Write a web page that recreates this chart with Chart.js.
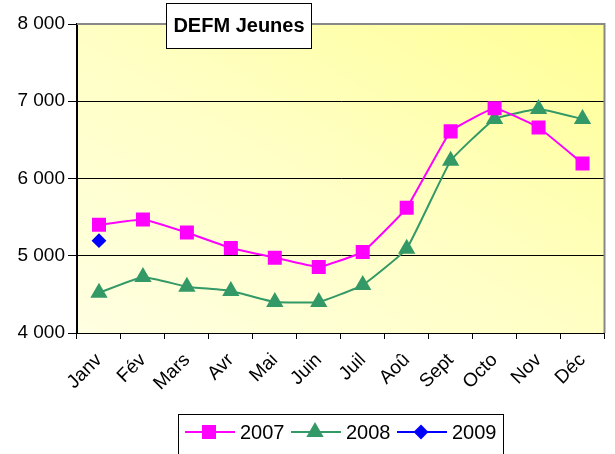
<!DOCTYPE html>
<html>
<head>
<meta charset="utf-8">
<script src="https://cdn.jsdelivr.net/npm/chart.js@4"></script>
<style>
  body { margin: 0; background: #fff; }
  #wrap { width: 615px; height: 454px; }
</style>
</head>
<body>
<div id="wrap"><canvas id="graph" width="615" height="454"></canvas></div>
<script>
// data
const months = ["Janv", "Fév", "Mars", "Avr", "Mai", "Juin", "Juil", "Aoû", "Sept", "Octo", "Nov", "Déc"];
const y2007 = [5400, 5470, 5300, 5100, 4975, 4855, 5050, 5620, 6610, 6910, 6660, 6195];
const y2008 = [4520, 4725, 4600, 4545, 4400, 4400, 4620, 5090, 6230, 6770, 6900, 6770];
const y2009 = [5195, null, null, null, null, null, null, null, null, null, null, null];
const yTicks = [4000, 5000, 6000, 7000, 8000];
const chartTitle = "DEFM Jeunes";

const FONT = "'Liberation Sans', Arial, sans-serif";

function spaced(v) { // 8000 -> "8 000"
  return String(v).replace(/\B(?=(\d{3})+(?!\d))/g, ' ');
}

// background, frame, title box and legend
const decor = {
  id: 'decor',
  beforeDraw(chart) {
    const {ctx, chartArea: a} = chart;
    const w = a.right - a.left, h = a.bottom - a.top;
    const cx = a.left + w / 2, cy = a.top + h / 2;
    const L = Math.hypot(w, h), k = w * h / L; // iso-lines parallel to the TL-BR diagonal
    const nx = h / L, ny = -w / L;
    const g = ctx.createLinearGradient(cx - k * nx, cy - k * ny, cx + k * nx, cy + k * ny);
    g.addColorStop(0, '#ffffe2');
    g.addColorStop(0.5, '#ffffc4');
    g.addColorStop(1, '#ffff96');
    ctx.save();
    ctx.fillStyle = g;
    ctx.fillRect(a.left, a.top, w, h);
    ctx.restore();
  },
  afterDraw(chart) {
    const {ctx, chartArea: a} = chart;
    ctx.save();
    // grey frame top / right
    ctx.strokeStyle = '#888';
    ctx.lineWidth = 2;
    ctx.beginPath();
    ctx.moveTo(a.left, a.top);
    ctx.lineTo(a.right, a.top);
    ctx.lineTo(a.right, a.bottom);
    ctx.stroke();

    // title box
    ctx.fillStyle = '#fff';
    ctx.fillRect(166, 3, 145, 45);
    ctx.strokeStyle = '#000';
    ctx.lineWidth = 1;
    ctx.strokeRect(166.5, 3.5, 145, 45);
    ctx.fillStyle = '#000';
    ctx.font = 'bold 20px ' + FONT;
    ctx.textAlign = 'center';
    ctx.textBaseline = 'middle';
    ctx.fillText(chartTitle, 239, 26);

    // legend box
    ctx.fillStyle = '#fff';
    ctx.fillRect(178, 414, 325, 50);
    ctx.strokeStyle = '#000';
    ctx.strokeRect(178.5, 414.5, 325, 50);
    ctx.font = '20px ' + FONT;
    ctx.textAlign = 'left';
    chart.data.datasets.forEach((ds, i) => {
      const x = 185 + i * 106, y = 432;
      ctx.strokeStyle = ds.borderColor;
      ctx.lineWidth = 2;
      ctx.beginPath();
      ctx.moveTo(x, y);
      ctx.lineTo(x + 50, y);
      ctx.stroke();
      ctx.fillStyle = ds.pointBackgroundColor;
      ctx.strokeStyle = ds.pointBackgroundColor;
      Chart.helpers.drawPoint(ctx, {pointStyle: ds.pointStyle, radius: ds.pointRadius, rotation: 0, borderWidth: 1}, x + 24, y);
      ctx.fillStyle = '#000';
      ctx.fillText(ds.label, x + 55, y + 1);
    });
    ctx.restore();
  }
};

chart = new Chart("graph", {
  type: "line",
  data: {
    labels: months,
    datasets: [
      {label: "2007", data: y2007, borderColor: '#ff00ff', backgroundColor: '#ff00ff',
       pointBackgroundColor: '#ff00ff', pointBorderColor: '#ff00ff', pointStyle: 'rect', pointRadius: 8.5, borderWidth: 2, tension: 0.1},
      {label: "2008", data: y2008, borderColor: '#339966', backgroundColor: '#339966',
       pointBackgroundColor: '#339966', pointBorderColor: '#339966', pointStyle: 'triangle', pointRadius: 8, borderWidth: 2, tension: 0.1},
      {label: "2009", data: y2009, borderColor: '#0000ff', backgroundColor: '#0000ff',
       pointBackgroundColor: '#0000ff', pointBorderColor: '#0000ff', pointStyle: 'rectRot', pointRadius: 6, borderWidth: 2, tension: 0.1}
    ]
  },
  options: {
    responsive: false,
    animation: false,
    layout: {padding: {left: 0, top: 24, right: 9, bottom: 0}},
    plugins: {legend: {display: false}, tooltip: {enabled: false}},
    scales: {
      x: {
        offset: true,
        grid: {offset: true, drawOnChartArea: false, tickLength: 6, tickColor: '#000'},
        border: {color: '#000', width: 1},
        ticks: {color: '#000', font: {family: FONT, size: 19}, minRotation: 45, maxRotation: 45, padding: 10},
        afterFit(s) { s.height = 121; }
      },
      y: {
        min: 4000, max: 8000,
        afterBuildTicks(s) { s.ticks = yTicks.map(v => ({value: v})); },
        grid: {
          color: c => (c.tick && c.tick.value > 4000 && c.tick.value < 8000) ? '#000' : 'rgba(0,0,0,0)',
          tickColor: '#000', tickLength: 9
        },
        border: {color: '#000', width: 2},
        ticks: {color: '#000', font: {family: FONT, size: 19}, padding: 3, callback: v => spaced(v)},
        afterFit(s) { s.width = 77; }
      }
    }
  },
  plugins: [decor]
});
</script>
</body>
</html>
